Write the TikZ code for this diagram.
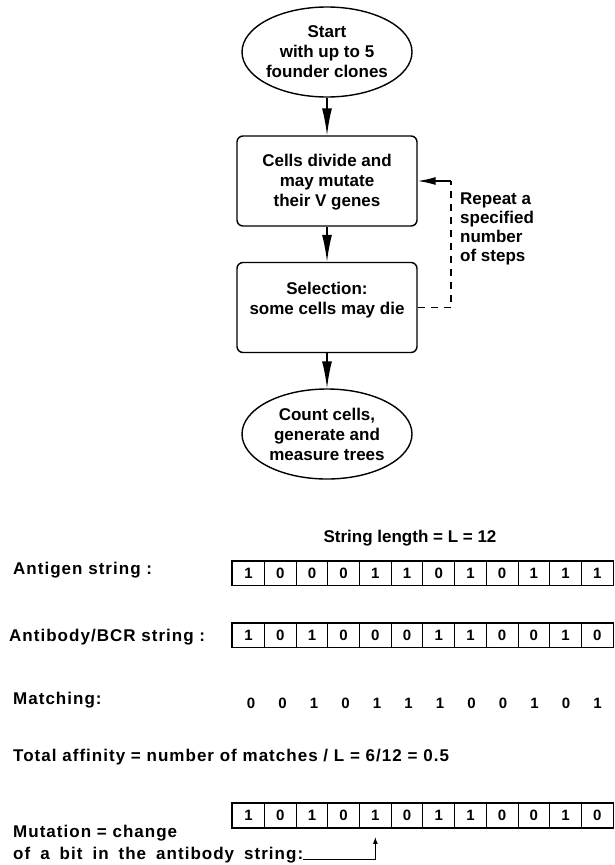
\documentclass[tikz,border=0pt]{standalone}
\usepackage{fontspec}
\setmainfont{Liberation Sans}
\usetikzlibrary{shapes.geometric,arrows.meta}
\begin{document}
\begin{tikzpicture}[x=1pt,y=-1pt,
  every node/.style={font=\fontsize{17}{20}\selectfont\bfseries},
  oval/.style={draw,ellipse,line width=1.4pt,minimum width=170pt,minimum height=90pt,inner sep=0pt},
  procbox/.style={draw,rounded corners=6pt,line width=1.4pt,minimum width=180pt,minimum height=90pt,inner sep=0pt},
  ctext/.style={align=center,inner sep=0pt},
  flow/.style={line width=1.5pt,-{Latex[length=27pt,width=10pt]}},
  fbdash/.style={line width=1.5pt,dash pattern=on 7pt off 6pt},
  fbarrow/.style={line width=1.5pt,-{Latex[length=18pt,width=8pt]}},
  cell/.style={draw,line width=0.9pt,minimum width=31.7pt,minimum height=24pt,inner sep=0pt,font=\fontsize{15}{18}\selectfont\bfseries},
  frame/.style={line width=1.8pt},
  lbl/.style={inner sep=0pt,align=left,font=\fontsize{17}{20}\selectfont\bfseries\addfontfeature{LetterSpace=6}},
  digit/.style={inner sep=0pt,font=\fontsize{15}{18}\selectfont\bfseries},
  small/.style={line width=1pt,-{Latex[length=7pt,width=5pt]}},
]
\useasboundingbox (0,0) rectangle (615,865);

% flowchart
\node[oval] (start) at (327,52) {};
\node[ctext] (starttxt) at (327,52) {Start\\with up to 5\\founder clones};
\node[procbox] (box1) at (327,181) {};
\node[ctext] (box1txt) at (327,182) {Cells divide and\\may mutate\\their V genes};
\node[procbox] (box2) at (327,307.5) {};
\node[ctext] (box2txt) at (327,300) {Selection:\\some cells may die};
\node[oval] (finish) at (327,434) {};
\node[ctext] (finishtxt) at (327,434) {Count cells,\\generate and\\measure trees};

\draw[flow] (start.south) -- (box1.north);
\draw[flow] (box1.south) -- (box2.north);
\draw[flow] (box2.south) -- (finish.north);

\coordinate (fb) at (451,181);
\draw[fbdash] (box2.east) -| (fb);
\draw[fbarrow] (fb) -- (box1.east);
\node[inner sep=0pt,align=left,anchor=north west,font=\fontsize{17}{19}\selectfont\bfseries] (repeat) at (460,193) {Repeat a\\specified\\number\\of steps};

% strings
\node[inner sep=0pt] (slen) at (410,538) {String length = L = 12};

\node[lbl,anchor=west] (agl) at (13,570) {Antigen string :};
\node[lbl,anchor=west] (abl) at (9,637) {Antibody/BCR string :};
\node[lbl,anchor=west] (ml) at (13,700) {Matching:};

\foreach \v [count=\i from 0] in {1,0,0,0,1,1,0,1,0,1,1,1}
  \node[cell] (ag\i) at (248.55+31.7*\i,573) {\v};
\draw[frame] (ag0.north west) rectangle (ag11.south east);

\foreach \v [count=\i from 0] in {1,0,1,0,0,0,1,1,0,0,1,0}
  \node[cell] (ab\i) at (248.55+31.7*\i,635) {\v};
\draw[frame] (ab0.north west) rectangle (ab11.south east);

\foreach \v [count=\i from 0] in {0,0,1,0,1,1,1,0,0,1,0,1}
  \node[digit] (mt\i) at (251+31.5*\i,703) {\v};

\node[lbl,anchor=west] (total) at (13,757) {Total affinity = number of matches / L = 6/12 = 0.5};

\foreach \v [count=\i from 0] in {1,0,1,0,1,0,1,1,0,0,1,0}
  \node[cell] (mu\i) at (248.55+31.7*\i,815.5) {\v};
\draw[frame] (mu0.north west) rectangle (mu11.south east);

\node[lbl,anchor=west] (mut1) at (13,833) {Mutation = change};
\node[lbl,anchor=west] (mut2) at (13,855) {\spaceskip=10pt of a bit in the antibody string:};
\draw[small,shorten >=9pt] (mut2.base east) -| (mu4.south);
\end{tikzpicture}
\end{document}
